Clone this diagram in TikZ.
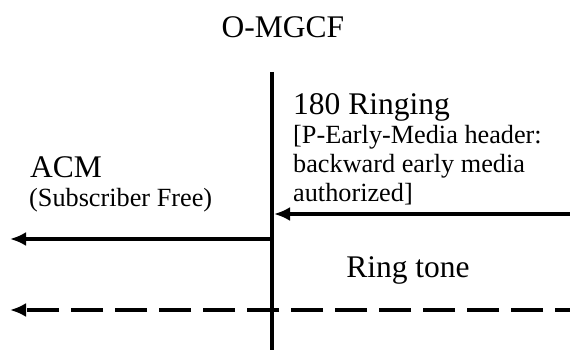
\documentclass[tikz,border=0pt]{standalone}
\usepackage{fontspec}
\setmainfont{Liberation Serif}
\usetikzlibrary{arrows.meta, positioning, calc}

\begin{document}
\begin{tikzpicture}[x=1pt, y=-1pt, >={Latex[length=16pt,width=14pt]},
    big/.style={inner sep=0pt, font=\fontsize{31.5}{37}\selectfont},
    small/.style={inner sep=0pt, align=left, font=\fontsize{26.25}{31}\selectfont},
    msg/.style={line width=3.8pt, ->}]
    \useasboundingbox (0,0) rectangle (570,350);

    % Title and life line
    \node[big, anchor=base] (mgcf) at (283,38) {O-MGCF};
    \coordinate (ltop) at (272,72);
    \coordinate (lbot) at (272,350);
    \draw[line width=3.5pt] (ltop) -- (lbot);

    % 180 Ringing from the right
    \node[big, anchor=base west] (ringing) at (293,114) {180 Ringing};
    \node[small, anchor=base west] (pem) at (293,143) {[P-Early-Media header:};
    \node[small, anchor=base west] (bem) at (293,172) {backward early media};
    \node[small, anchor=base west] (auth) at (293,201) {authorized]};
    \coordinate (rin) at (570,214);
    \coordinate (lin) at (274,214);
    \draw[msg] (rin) -- (lin);

    % ACM to the left
    \node[big, anchor=base west] (acm) at (30,177) {ACM};
    \node[small, anchor=base west] (free) at (29,206) {(Subscriber Free)};
    \coordinate (aout) at (272,239);
    \coordinate (aend) at (10,239);
    \draw[msg] (aout) -- (aend);

    % Ring tone
    \node[big, anchor=base] (tone) at (408,277) {Ring tone};
    \coordinate (tin) at (570,310);
    \coordinate (tend) at (10,310);
    \draw[msg, dash pattern=on 32pt off 12pt, dash phase=17pt] (tin) -- (tend);
\end{tikzpicture}
\end{document}
